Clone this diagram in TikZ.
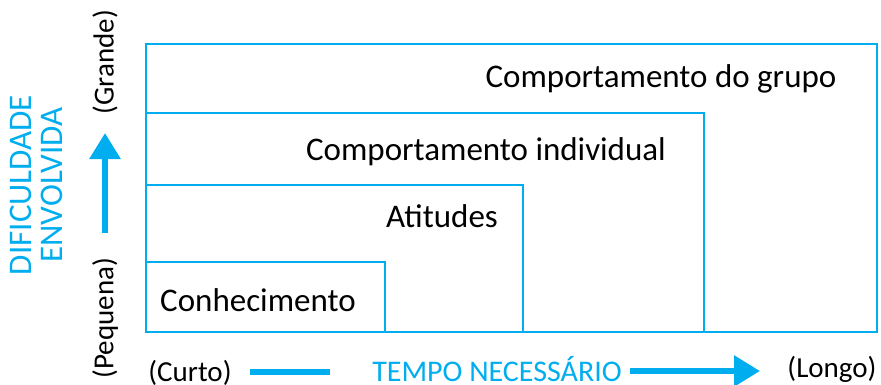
\documentclass[tikz,border=0pt]{standalone}
\usepackage{fontspec}
\setmainfont{Carlito}
\usetikzlibrary{arrows.meta}
\definecolor{cyanb}{RGB}{0,174,239}

\begin{document}
\begin{tikzpicture}[x=1pt,y=-1pt,
    box/.style={draw=cyanb,line width=1.5pt},
    lbl/.style={font=\fontsize{33}{34}\selectfont},
    axl/.style={font=\fontsize{29}{30}\selectfont},
    axt/.style={font=\fontsize{30}{31}\selectfont,text=cyanb},
    big/.style={draw=cyanb,line width=6pt,-{Triangle[length=26pt,width=30pt]}}]
      \useasboundingbox (0,0) rectangle (881,384);
      % nested boxes
      \draw[box] (146,44) rectangle (877,332);
      \draw[box] (146,113) rectangle (704,332);
      \draw[box] (146,185) rectangle (523,332);
      \draw[box] (146,262) rectangle (385,332);
      \node[lbl] at (661,79) (grupo) {Comportamento do grupo};
      \node[lbl] at (486,152) (indiv) {Comportamento individual};
      \node[lbl] at (442,216) (atit) {Atitudes};
      \node[lbl] at (258,300) (conh) {Conhecimento};
      % vertical axis
      \node[axt,font=\fontsize{33}{31}\selectfont,rotate=90,align=center] at (36,185) (dific) {DIFICULDADE\\ENVOLVIDA};
      \node[axl,rotate=90] at (105,62) (grande) {(Grande)};
      \node[axl,rotate=90] at (105,318) (pequena) {(Pequena)};
      \coordinate (v0) at (105,233);
      \coordinate (v1) at (105,133);
      \draw[big] (v0) -- (v1);
      % horizontal axis
      \node[axl,anchor=base] at (190,381) (curto) {(Curto)};
      \node[axt,anchor=base] at (497,381) (tempo) {TEMPO NECESSÁRIO};
      \node[axl,anchor=base] at (832,377) (longo) {(Longo)};
      \coordinate (h0) at (250,372);
      \coordinate (h1) at (330,372);
      \coordinate (h2) at (630,371);
      \coordinate (h3) at (760,371);
      \draw[draw=cyanb,line width=6pt] (h0) -- (h1);
      \draw[big] (h2) -- (h3);
   \end{tikzpicture}
\end{document}
